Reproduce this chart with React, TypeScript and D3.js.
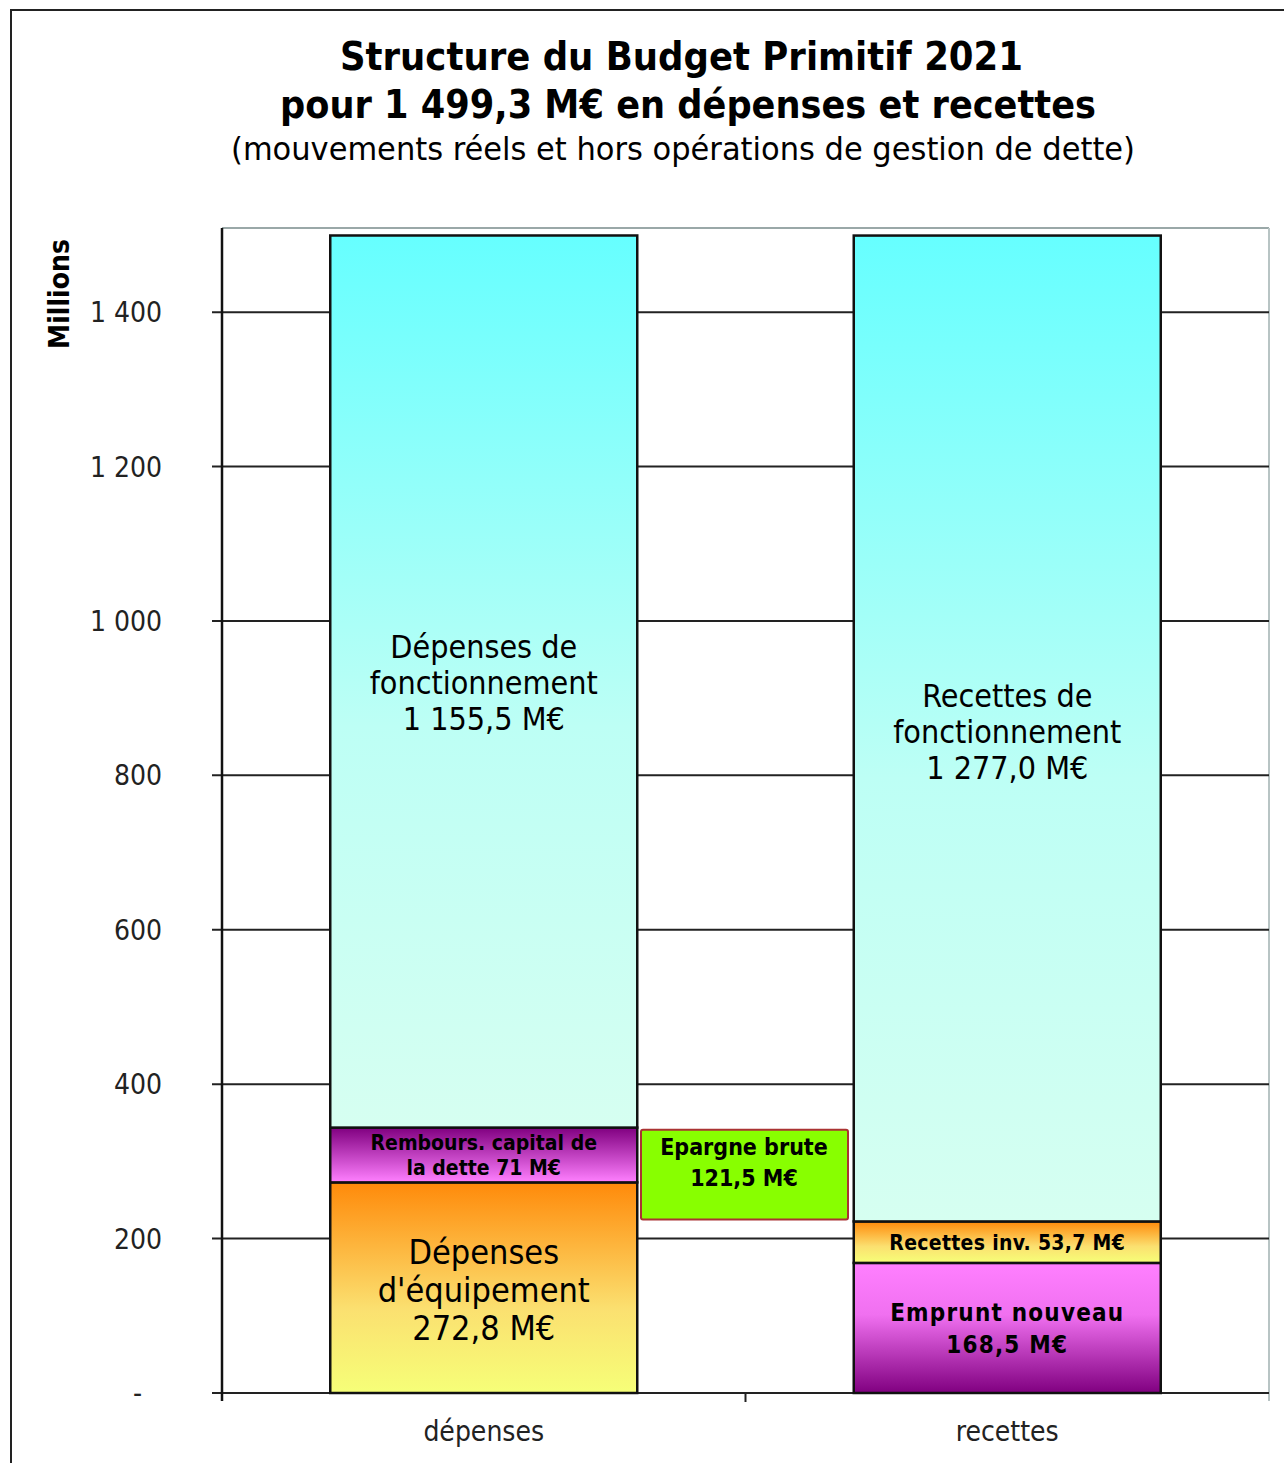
import React from "react";
import * as d3 from "d3";

const categories = ["dépenses", "recettes"];
const yTicks = [0, 200, 400, 600, 800, 1000, 1200, 1400];
const yTickLabels = ["-", "200", "400", "600", "800", "1 000", "1 200", "1 400"];

const depensesSeries = [
  { key: "equip", value: 272.8, lines: ["Dépenses", "d'équipement", "272,8 M€"] },
  { key: "rembours", value: 71, lines: ["Rembours. capital de", "la dette 71 M€"] },
  { key: "fonct", value: 1155.5, lines: ["Dépenses de", "fonctionnement", "1 155,5 M€"] },
];
const recettesSeries = [
  { key: "emprunt", value: 168.5, lines: ["Emprunt nouveau", "168,5 M€"] },
  { key: "recinv", value: 53.7, lines: ["Recettes inv. 53,7 M€"] },
  { key: "fonct", value: 1277.0, lines: ["Recettes de", "fonctionnement", "1 277,0 M€"] },
];
const epargne = { base: 222.2, value: 121.5, lines: ["Epargne brute", "121,5 M€"] };

const FONT = "'DejaVu Sans Condensed', 'DejaVu Sans', sans-serif";

export default function App() {
  const W = 1284, H = 1463;
  const plot = { left: 222, right: 1269, top: 228, bottom: 1393 };
  const y = d3.scaleLinear().domain([0, 1509]).range([plot.bottom, plot.top]);
  const x = d3.scaleBand().domain(categories).range([plot.left, plot.right]).paddingInner(0).paddingOuter(0);
  const barW = 307;
  const cx = (c: string) => (x(c) as number) + x.bandwidth() / 2;

  const fills: Record<string, string> = {
    fonct: "url(#gCyan)",
    equip: "url(#gOrange)",
    recinv: "url(#gOrange)",
    rembours: "url(#gPurpleDown)",
    emprunt: "url(#gPurpleUp)",
  };

  const labelStyle: Record<string, { size: number; weight: string; lh: number; ls: number }> = {
    fonct: { size: 32, weight: "normal", lh: 36, ls: 0 },
    equip: { size: 34, weight: "normal", lh: 38, ls: 0 },
    rembours: { size: 21, weight: "bold", lh: 25, ls: 0 },
    recinv: { size: 21, weight: "bold", lh: 25, ls: 0.3 },
    emprunt: { size: 24, weight: "bold", lh: 32, ls: 1.2 },
  };

  const stacks = [
    { cat: "dépenses", series: depensesSeries, fonctLabelY: 658 },
    { cat: "recettes", series: recettesSeries, fonctLabelY: 707 },
  ];

  const renderStack = (cat: string, series: typeof depensesSeries, fonctLabelY: number) => {
    let acc = 0;
    const out: React.ReactNode[] = [];
    series.forEach((s) => {
      const y0 = acc, y1 = acc + s.value;
      acc = y1;
      const top = y(y1), bot = y(y0);
      const left = cx(cat) - barW / 2;
      out.push(
        <rect key={cat + s.key} x={left} y={top} width={barW} height={bot - top}
          fill={fills[s.key]} stroke="#111" strokeWidth={2.5} />
      );
      const st = labelStyle[s.key];
      const n = s.lines.length;
      let firstBase: number;
      if (s.key === "fonct") firstBase = fonctLabelY;
      else {
        const mid = (top + bot) / 2;
        firstBase = mid - ((n - 1) * st.lh) / 2 + st.size * 0.36;
        if (s.key === "equip") firstBase = top + 82;
      }
      out.push(
        <text key={cat + s.key + "t"} x={cx(cat)} textAnchor="middle" fontFamily={FONT}
          fontSize={st.size} fontWeight={st.weight} letterSpacing={st.ls} fill="#000">
          {s.lines.map((l, i) => (
            <tspan key={i} x={cx(cat)} y={firstBase + i * st.lh}>{l}</tspan>
          ))}
        </text>
      );
    });
    return out;
  };

  const epTop = y(epargne.base + epargne.value) + 2;
  const epBot = y(epargne.base) - 2;
  const midX = (x("recettes") as number);

  return (
    <svg width={W} height={H} style={{ display: "block", position: "absolute", left: 0, top: 0 }}>
      <defs>
        <linearGradient id="gCyan" x1="0" y1="0" x2="0" y2="1">
          <stop offset="0" stopColor="#66ffff" />
          <stop offset="0.55" stopColor="#bdfff5" />
          <stop offset="1" stopColor="#d6fff1" />
        </linearGradient>
        <linearGradient id="gOrange" x1="0" y1="0" x2="0" y2="1">
          <stop offset="0" stopColor="#ff8a0a" />
          <stop offset="0.6" stopColor="#fbe070" />
          <stop offset="1" stopColor="#f6ff78" />
        </linearGradient>
        <linearGradient id="gPurpleDown" x1="0" y1="0" x2="0" y2="1">
          <stop offset="0" stopColor="#800080" />
          <stop offset="1" stopColor="#ff80ff" />
        </linearGradient>
        <linearGradient id="gPurpleUp" x1="0" y1="0" x2="0" y2="1">
          <stop offset="0" stopColor="#ff80ff" />
          <stop offset="0.4" stopColor="#f070f0" />
          <stop offset="1" stopColor="#800080" />
        </linearGradient>
      </defs>
      <rect x={0} y={0} width={W} height={H} fill="#fff" />
      <rect x={11} y={10} width={W + 20} height={H + 20} fill="none" stroke="#222" strokeWidth={2} />

      {/* title */}
      <text x={340} y={70} fontFamily={FONT} fontWeight="bold" fontSize={39} fill="#000"
        textLength={683} lengthAdjust="spacingAndGlyphs">
        Structure du Budget Primitif 2021
      </text>
      <text x={280} y={118} fontFamily={FONT} fontWeight="bold" fontSize={39} fill="#000"
        textLength={816} lengthAdjust="spacingAndGlyphs">
        pour 1 499,3 M€ en dépenses et recettes
      </text>
      <text x={231} y={160} fontFamily={FONT} fontSize={32} fill="#000"
        textLength={904} lengthAdjust="spacingAndGlyphs">
        (mouvements réels et hors opérations de gestion de dette)
      </text>

      {/* plot frame */}
      <line x1={plot.left} y1={plot.top} x2={plot.right} y2={plot.top} stroke="#9aa8a8" strokeWidth={2} />
      <line x1={plot.right} y1={plot.top} x2={plot.right} y2={plot.bottom + 8} stroke="#b8c4c4" strokeWidth={2} />

      {/* gridlines & ticks */}
      {yTicks.map((t, i) => (
        <g key={t}>
          <line x1={plot.left - 10} x2={plot.right} y1={y(t)} y2={y(t)} stroke="#222" strokeWidth={2} />
          <text x={yTickLabels[i] === "-" ? 142 : 162} y={y(t) + 10} textAnchor="end" fontFamily={FONT}
            fontSize={28} fill="#222">
            {yTickLabels[i]}
          </text>
        </g>
      ))}
      <line x1={plot.left} y1={plot.top} x2={plot.left} y2={plot.bottom + 8} stroke="#111" strokeWidth={2.5} />
      <line x1={midX} y1={plot.bottom} x2={midX} y2={plot.bottom + 9} stroke="#222" strokeWidth={2} />

      {/* y axis title */}
      <text transform="translate(69,294) rotate(-90)" textAnchor="middle" fontFamily={FONT}
        fontWeight="bold" fontSize={28} fill="#000">Millions</text>

      {/* bars */}
      {stacks.map((s) => <g key={s.cat}>{renderStack(s.cat, s.series, s.fonctLabelY)}</g>)}

      {/* epargne brute */}
      <rect x={641} y={epTop} width={207} height={epBot - epTop} fill="#88ff00" stroke="#a33" strokeWidth={2} rx={2} />
      <text textAnchor="middle" fontFamily={FONT} fontSize={23} fontWeight="bold" fill="#000">
        {epargne.lines.map((l, i) => (
          <tspan key={i} x={744} y={1155 + i * 31}>{l}</tspan>
        ))}
      </text>

      {/* x labels */}
      {categories.map((c) => (
        <text key={c} x={cx(c)} y={1441} textAnchor="middle" fontFamily={FONT} fontSize={28} fill="#222">{c}</text>
      ))}
    </svg>
  );
}
